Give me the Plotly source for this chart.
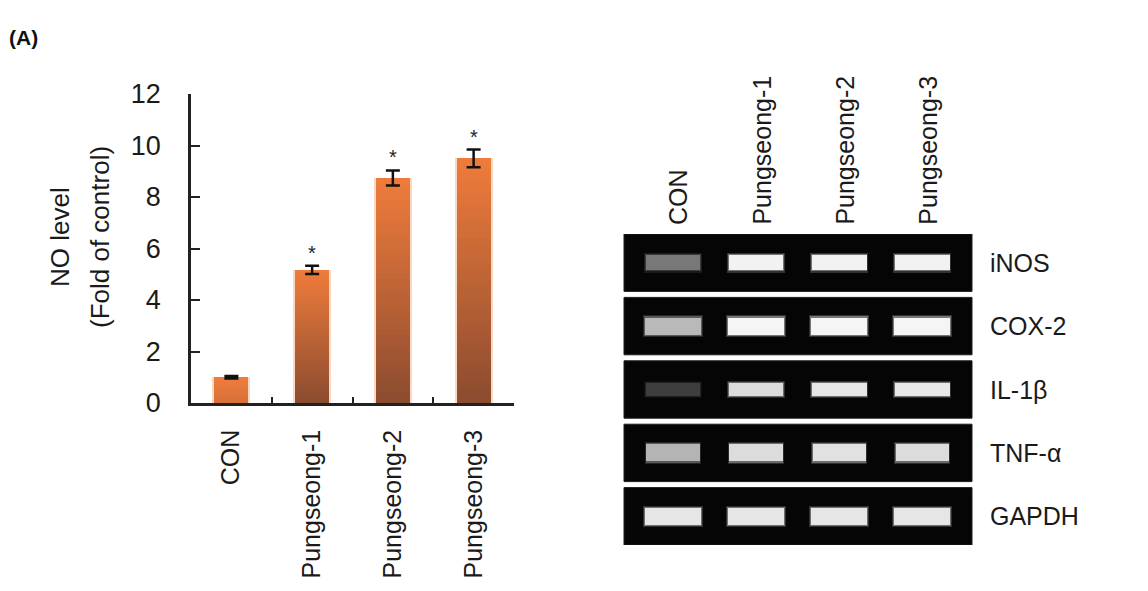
import plotly.graph_objects as go

# ---------------- data ----------------
categories = ["CON", "Pungseong-1", "Pungseong-2", "Pungseong-3"]
no_level = [1.0, 5.17, 8.74, 9.50]
no_error = [0.05, 0.16, 0.29, 0.34]
significant = [False, True, True, True]
y_ticks = [0, 2, 4, 6, 8, 10, 12]

genes = ["iNOS", "COX-2", "IL-1β", "TNF-α", "GAPDH"]
lanes = ["CON", "Pungseong-1", "Pungseong-2", "Pungseong-3"]
inos_band = [0.48, 0.97, 0.97, 0.97]
cox2_band = [0.74, 0.98, 0.98, 0.98]
il1b_band = [0.25, 0.88, 0.92, 0.93]
tnfa_band = [0.72, 0.88, 0.90, 0.88]
gapdh_band = [0.92, 0.92, 0.92, 0.92]
band_intensity = [inos_band, cox2_band, il1b_band, tnfa_band, gapdh_band]

# ---------------- style ----------------
W, H = 1148, 591
FONT = "Arial, Liberation Sans, sans-serif"
TOP_C = (240, 124, 60)
BOT_C = (139, 76, 48)
band_h = [0.24, 0.27, 0.20, 0.27, 0.27]
band_w = [0.66, 0.68, 0.66, 0.64, 0.68]


def px_x(p):
    return p / W


def px_y(p):
    return 1 - p / H


fig = go.Figure()

# --- gradient bars (sliced) ---
N = 40
xs, bases, hs, cols = [], [], [], []
for c, v in zip(categories, no_level):
    amt = min(1.0, v / 4.0)
    for k in range(N):
        b = v * k / N
        h = v / N * (1.6 if k < N - 1 else 1.0)
        t = (1 - (k + 0.5) / N) * amt
        col = tuple(int(TOP_C[j] + (BOT_C[j] - TOP_C[j]) * t) for j in range(3))
        xs.append(c)
        bases.append(b)
        hs.append(min(h, v - b))
        cols.append("rgb(%d,%d,%d)" % col)

# soft halo behind bars
fig.add_trace(go.Bar(x=categories, y=no_level, width=0.47,
                     marker=dict(color="rgba(245,170,120,0.45)", line=dict(width=0)),
                     hoverinfo="skip", showlegend=False, xaxis="x", yaxis="y"))
fig.add_trace(go.Bar(x=xs, y=hs, base=bases, width=0.42,
                     marker=dict(color=cols, line=dict(width=0)),
                     showlegend=False, xaxis="x", yaxis="y"))
fig.add_trace(go.Scatter(x=categories, y=no_level, mode="markers",
                         marker=dict(size=1, color="rgba(0,0,0,0)"),
                         error_y=dict(type="data", array=no_error, color="#111",
                                      thickness=2.5, width=7),
                         showlegend=False, xaxis="x", yaxis="y"))

annotations = []
for c, v, e, s in zip(categories, no_level, no_error, significant):
    if s:
        annotations.append(dict(x=c, y=v + e, xref="x", yref="y", text="*",
                                showarrow=False, yanchor="bottom", yshift=0,
                                font=dict(family=FONT, size=20, color="#222")))

# --- gel panels ---
half = 0.4527
shapes = []
for i, g in enumerate(genes):
    shapes.append(dict(type="rect", xref="x2 domain", yref="y2", x0=0, x1=1,
                       y0=i - half, y1=i + half, fillcolor="#050505",
                       line=dict(color="#1e1e1e", width=1), layer="below"))
    vals = band_intensity[i]
    n = len(lanes)
    for grow_y, grow_x, op in [(0.07, 0.035, 0.18), (0.035, 0.018, 0.35)]:
        glow = ["rgba(%d,%d,%d,%.2f)" % (int(255 * a), int(255 * a), int(255 * a), op) for a in vals]
        fig.add_trace(go.Bar(x=list(range(n)), y=[band_h[i] + grow_y] * n,
                             base=[i - (band_h[i] + grow_y) / 2] * n, width=band_w[i] + grow_x,
                             marker=dict(color=glow, line=dict(width=0)),
                             showlegend=False, hoverinfo="skip", xaxis="x2", yaxis="y2"))
    grey = ["rgb(%d,%d,%d)" % (int(250 * a), int(250 * a), int(250 * a)) for a in vals]
    fig.add_trace(go.Bar(x=list(range(n)), y=[band_h[i]] * n,
                         base=[i - band_h[i] / 2] * n, width=band_w[i],
                         marker=dict(color=grey, line=dict(width=0)),
                         showlegend=False, xaxis="x2", yaxis="y2"))
    annotations.append(dict(x=px_x(988), y=i, xref="paper", yref="y2", text=g,
                            showarrow=False, xanchor="left", yanchor="middle",
                            font=dict(family=FONT, size=25, color="#1a1a1a")))

for j, lane in enumerate(lanes):
    annotations.append(dict(x=j, y=px_y(227), xref="x2", yref="paper", text=lane,
                            textangle=-90, showarrow=False, xanchor="center",
                            yanchor="bottom", xshift=5,
                            font=dict(family=FONT, size=25, color="#1a1a1a")))

# titles
annotations.append(dict(x=px_x(60), y=px_y(237), xref="paper", yref="paper",
                        text="NO level", textangle=-90, showarrow=False,
                        xanchor="center", yanchor="middle",
                        font=dict(family=FONT, size=26, color="#1a1a1a")))
annotations.append(dict(x=px_x(100), y=px_y(237), xref="paper", yref="paper",
                        text="(Fold of control)", textangle=-90, showarrow=False,
                        xanchor="center", yanchor="middle",
                        font=dict(family=FONT, size=26, color="#1a1a1a")))
annotations.append(dict(x=px_x(7), y=px_y(37), xref="paper", yref="paper",
                        text="<b>(A)</b>", showarrow=False,
                        xanchor="left", yanchor="middle",
                        font=dict(family=FONT, size=21, color="#111")))

fig.update_layout(
    width=W, height=H, autosize=False,
    margin=dict(l=0, r=0, t=0, b=0, pad=0, autoexpand=False),
    paper_bgcolor="white", plot_bgcolor="white",
    barmode="overlay", bargap=0,
    showlegend=False,
    font=dict(family=FONT, color="#1a1a1a"),
    xaxis=dict(domain=[px_x(191), px_x(514)], type="category",
               categoryorder="array", categoryarray=categories,
               range=[-0.5, 3.5], showline=True, linecolor="#222", linewidth=2.5,
               ticks="inside", tickson="boundaries", ticklen=6, tickwidth=2,
               tickcolor="#222", tickangle=-90, ticklabelstandoff=14,
               tickfont=dict(family=FONT, size=25, color="#1a1a1a"),
               showgrid=False, zeroline=False, fixedrange=True, automargin=False),
    yaxis=dict(domain=[px_y(403), px_y(94)], range=[0, 12], tickvals=y_ticks,
               showline=True, linecolor="#222", linewidth=2.5,
               ticks="inside", ticklen=9, tickwidth=2, tickcolor="#222",
               ticklabelstandoff=22,
               tickfont=dict(family=FONT, size=27, color="#1a1a1a"),
               showgrid=False, zeroline=False, fixedrange=True, automargin=False),
    xaxis2=dict(domain=[px_x(624), px_x(972)], range=[-0.59, 3.6],
                visible=False, anchor="y2", automargin=False, fixedrange=True),
    yaxis2=dict(domain=[px_y(545), px_y(234)], range=[4 + half, -half],
                visible=False, anchor="x2", automargin=False, fixedrange=True),
    shapes=shapes,
    annotations=annotations,
)

fig.write_html("out.html", config={"displayModeBar": False},
               post_script="document.body.style.margin='0';document.body.style.overflow='hidden';")
